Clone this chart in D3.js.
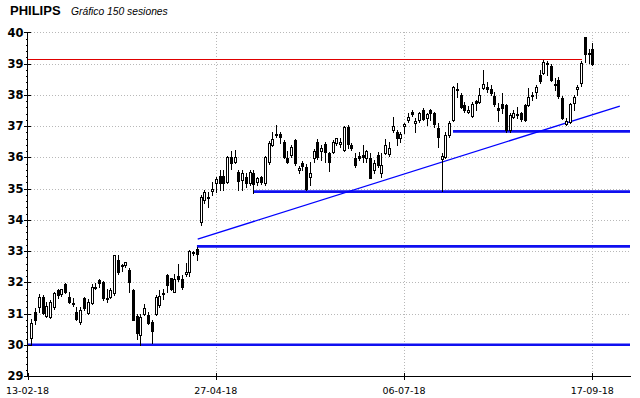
<!DOCTYPE html>
<html>
<head>
<meta charset="utf-8">
<script src="https://cdn.jsdelivr.net/npm/d3@7"></script>
<style>
body { margin: 0; background: #fff; }
</style>
</head>
<body>
<script>
// dimensions
var width = 640;
var height = 398;

var title = "PHILIPS";
var subtitle = "Gráfico 150 sesiones";

// daily sessions, index 0 .. 149
var opens = [
    30.21,31.06,31.20,31.52,30.92,30.90,31.20,31.75,31.62,31.95,
    31.54,31.35,31.04,30.72,31.49,31.01,31.33,31.83,32.07,32.00,
    31.51,31.54,31.67,32.71,32.56,32.55,32.39,31.75,30.93,30.32,
    31.00,30.95,30.74,30.97,31.27,31.63,32.23,32.13,31.70,32.20,
    32.10,32.28,32.34,32.93,33.05,33.94,34.63,34.72,34.93,35.17,
    35.40,35.40,35.22,36.02,35.86,35.54,35.28,35.38,35.19,35.49,
    35.22,35.36,35.17,35.86,36.40,36.70,36.76,36.50,35.97,36.08,
    36.54,35.60,35.81,35.70,35.38,35.97,36.50,36.20,36.42,36.13,
    36.18,36.45,36.42,36.23,36.98,36.39,35.99,36.05,36.07,35.97,
    35.97,35.59,36.07,35.49,36.13,36.10,36.87,36.82,36.63,37.00,
    37.19,37.44,37.09,37.19,37.51,37.25,37.51,37.41,36.93,35.93,
    36.02,36.71,37.20,38.20,37.99,37.67,37.46,37.32,37.80,37.78,
    38.21,38.24,38.17,37.96,37.57,37.70,37.67,36.87,37.30,37.40,
    37.41,37.67,37.67,37.98,38.10,38.63,38.69,39.00,38.92,38.35,
    38.47,37.89,37.07,37.14,37.75,38.20,38.39,39.86,39.31,39.45
];
var highs = [
    30.82,31.17,31.63,31.60,31.38,31.44,31.68,31.80,31.80,31.97,
    31.70,31.49,31.20,31.20,31.54,31.45,31.94,31.99,32.10,32.04,
    31.77,31.81,32.87,32.87,32.58,32.65,32.45,31.80,31.00,31.00,
    31.30,31.05,30.78,31.60,31.75,31.78,32.26,32.15,32.25,32.60,
    32.22,32.62,33.02,33.01,33.12,34.80,34.96,34.90,35.21,35.38,
    35.60,35.58,36.04,36.20,36.24,35.60,35.60,35.49,35.60,35.60,
    35.38,35.40,36.04,36.53,36.81,37.04,36.80,36.55,36.20,36.39,
    36.60,35.72,35.88,35.80,35.86,36.27,36.60,36.39,36.50,36.18,
    36.55,36.63,36.63,37.00,37.03,36.45,36.13,36.18,36.39,36.23,
    36.13,35.91,36.18,36.13,36.60,36.50,37.30,36.87,36.82,37.09,
    37.41,37.51,37.25,37.46,37.57,37.41,37.54,37.46,37.09,36.13,
    36.81,37.17,38.28,38.38,38.05,37.78,37.64,37.78,37.83,38.21,
    38.80,38.42,38.31,38.10,37.74,38.05,37.72,37.41,37.51,37.62,
    37.45,37.72,38.21,38.10,38.31,38.80,39.11,39.09,38.99,38.53,
    38.58,37.96,37.25,37.75,37.99,38.31,39.09,39.86,39.45,39.65
];
var lows = [
    29.98,30.67,31.06,30.99,30.88,30.85,31.16,31.50,31.55,31.65,
    31.35,31.24,30.78,30.68,31.12,30.98,31.30,31.78,31.86,31.44,
    31.38,31.49,31.60,32.26,32.36,32.50,31.70,30.78,30.20,29.99,
    30.95,30.68,30.07,30.95,31.22,31.47,31.70,31.75,31.68,32.05,
    31.80,32.20,32.20,32.88,32.72,33.84,34.53,34.42,34.79,34.90,
    34.95,34.95,35.17,35.63,35.82,34.95,34.95,35.06,35.12,34.86,
    35.12,35.14,35.12,35.80,36.35,36.65,36.45,35.99,35.82,36.01,
    35.76,35.50,35.60,34.95,35.10,35.86,35.95,35.91,35.86,35.56,
    36.13,36.40,36.34,36.20,36.29,36.23,35.70,35.91,35.86,35.86,
    35.33,35.49,35.70,35.38,36.10,36.05,36.82,36.39,36.50,36.77,
    37.14,37.33,36.80,37.14,37.19,37.03,37.19,36.98,36.34,34.92,
    35.97,36.66,37.17,37.94,37.57,37.46,37.41,37.30,37.51,37.75,
    38.18,38.10,37.99,37.64,37.17,37.41,36.82,36.82,37.25,37.25,
    37.16,37.16,37.64,37.83,37.89,38.37,38.67,38.63,38.45,38.16,
    37.89,37.22,37.04,37.11,37.51,38.00,38.28,39.06,39.03,38.96
];
var closes = [
    30.69,30.80,31.54,31.03,31.24,31.38,31.65,31.60,31.78,31.70,
    31.38,31.32,30.82,31.11,31.17,31.38,31.86,31.85,31.97,31.49,
    31.45,31.75,32.86,32.33,32.53,32.64,32.02,30.80,30.37,30.90,
    31.17,30.70,30.44,31.54,31.57,31.67,31.91,31.78,32.10,32.12,
    31.86,32.33,33.00,32.97,32.92,34.74,34.90,34.70,35.00,35.30,
    35.19,35.19,36.02,35.83,36.02,35.25,35.49,35.17,35.54,35.15,
    35.35,35.20,36.02,36.45,36.60,36.74,36.66,36.02,35.86,36.33,
    35.83,35.67,35.72,35.00,35.49,36.20,36.02,36.29,36.16,35.86,
    36.50,36.61,36.50,36.98,36.42,36.29,35.75,35.97,36.02,36.20,
    35.35,35.81,35.75,35.75,36.39,36.31,37.00,36.61,36.73,37.05,
    37.30,37.38,37.16,37.41,37.23,37.38,37.41,37.06,36.66,36.04,
    36.71,37.11,38.24,38.15,37.60,37.51,37.50,37.71,37.73,38.00,
    38.35,38.18,38.05,37.70,37.51,37.57,36.87,37.35,37.41,37.38,
    37.21,37.20,37.94,37.99,38.24,38.45,39.06,39.02,38.47,38.33,
    37.96,37.25,37.17,37.71,37.94,38.24,39.03,39.31,39.35,38.99
];

// x axis ticks (session index) and their date labels
var tickIndex = [-1, 49, 99, 149];
var tickLabels = ["13-02-18", "27-04-18", "06-07-18", "17-09-18"];

// y axis ticks
var yTicks = [29, 30, 31, 32, 33, 34, 35, 36, 37, 38, 39, 40];

// horizontal supports: level and starting session
var supportLevels = [30.0, 33.15, 34.9, 36.83];
var supportStart = [-1, 44, 59, 112];

// resistance (red) line
var resistanceLevel = 39.14;
var resistanceEnd = 146.2;

// trend line: two points [session, price]
var trendFrom = [44.2, 33.38];
var trendTo = [156.3, 37.64];

var svg = d3.select("body")
    .append("svg")
    .attr("width", width)
    .attr("height", height);

var plot = { left: 27.5, right: 630, top: 32.3, bottom: 376 };

var x = d3.scaleLinear().domain([-1, 159]).range([plot.left, plot.right]);
var y = d3.scaleLinear().domain([29, 40]).range([plot.bottom, plot.top]);

function px(v) { return Math.round(v) + 0.5; }

// title
svg.append("text")
    .attr("x", 10)
    .attr("y", 15)
    .style("font-family", "'Liberation Sans', Arial, sans-serif")
    .style("font-weight", "bold")
    .style("font-size", "13px")
    .text(title);
svg.append("text")
    .attr("x", 71)
    .attr("y", 15)
    .style("font-family", "'Liberation Sans', Arial, sans-serif")
    .style("font-style", "italic")
    .style("font-size", "10.3px")
    .text(subtitle);

// grid
var grid = svg.append("g").attr("shape-rendering", "crispEdges");
grid.selectAll(".hgrid")
    .data(yTicks.filter(function(d) { return d > 29; }))
    .enter().append("line")
    .attr("x1", plot.left)
    .attr("x2", plot.right)
    .attr("y1", function(d) { return px(y(d)); })
    .attr("y2", function(d) { return px(y(d)); })
    .attr("stroke", "#b8b8b8")
    .attr("stroke-dasharray", "1,2");
grid.selectAll(".vgrid")
    .data(tickIndex.slice(1))
    .enter().append("line")
    .attr("x1", function(d) { return px(x(d)); })
    .attr("x2", function(d) { return px(x(d)); })
    .attr("y1", plot.top)
    .attr("y2", plot.bottom)
    .attr("stroke", "#b8b8b8")
    .attr("stroke-dasharray", "1,2");

// support lines
svg.selectAll(".support")
    .data(supportLevels)
    .enter().append("line")
    .attr("x1", function(d, i) { return x(supportStart[i]); })
    .attr("x2", plot.right)
    .attr("y1", function(d) { return y(d); })
    .attr("y2", function(d) { return y(d); })
    .attr("stroke", "#1010f0")
    .attr("stroke-width", 2.6);

// resistance
svg.append("line")
    .attr("x1", plot.left)
    .attr("x2", x(resistanceEnd))
    .attr("y1", px(y(resistanceLevel)))
    .attr("y2", px(y(resistanceLevel)))
    .attr("stroke", "#e00000")
    .attr("shape-rendering", "crispEdges");

// trend line
svg.append("line")
    .attr("x1", x(trendFrom[0]))
    .attr("y1", y(trendFrom[1]))
    .attr("x2", x(trendTo[0]))
    .attr("y2", y(trendTo[1]))
    .attr("stroke", "#0000ff")
    .attr("stroke-width", 1.3);

// candles
var candles = svg.append("g").attr("shape-rendering", "crispEdges");
var sessions = d3.range(opens.length);

candles.selectAll(".wick")
    .data(sessions)
    .enter().append("line")
    .attr("x1", function(i) { return px(x(i)); })
    .attr("x2", function(i) { return px(x(i)); })
    .attr("y1", function(i) { return Math.round(y(highs[i])); })
    .attr("y2", function(i) { return Math.round(y(lows[i])) + 1; })
    .attr("stroke", "#000");

candles.selectAll(".body")
    .data(sessions)
    .enter().append("rect")
    .attr("x", function(i) { return Math.round(x(i)) - 0.5; })
    .attr("width", 2)
    .attr("y", function(i) { return px(y(Math.max(opens[i], closes[i]))); })
    .attr("height", function(i) {
        var h = Math.round(y(Math.min(opens[i], closes[i]))) - Math.round(y(Math.max(opens[i], closes[i])));
        return Math.max(h, 1);
    })
    .attr("fill", function(i) { return closes[i] >= opens[i] ? "#fff" : "#000"; })
    .attr("stroke", "#000");

// y axis
var yAxis = svg.append("g").attr("shape-rendering", "crispEdges");
yAxis.append("line")
    .attr("x1", px(plot.left - 0.5))
    .attr("x2", px(plot.left - 0.5))
    .attr("y1", plot.top)
    .attr("y2", plot.bottom + 1)
    .attr("stroke", "#000");
var minor = d3.range(29, 40.001, 0.2);
yAxis.selectAll(".minor")
    .data(minor)
    .enter().append("line")
    .attr("x1", 25.5)
    .attr("x2", 28)
    .attr("y1", function(d) { return px(y(d)); })
    .attr("y2", function(d) { return px(y(d)); })
    .attr("stroke", "#000");
yAxis.selectAll(".major")
    .data(yTicks)
    .enter().append("line")
    .attr("x1", 24)
    .attr("x2", 31)
    .attr("y1", function(d) { return px(y(d)); })
    .attr("y2", function(d) { return px(y(d)); })
    .attr("stroke", "#000");
svg.selectAll(".ylabel")
    .data(yTicks)
    .enter().append("text")
    .attr("x", 23.5)
    .attr("y", function(d) { return y(d) + 4.2; })
    .attr("text-anchor", "end")
    .style("font-family", "'DejaVu Sans', Verdana, sans-serif")
    .style("font-weight", "bold")
    .style("font-size", "11.5px")
    .style("fill", "#000")
    .text(function(d) { return d; });

// x axis
var xAxis = svg.append("g").attr("shape-rendering", "crispEdges");
xAxis.append("line")
    .attr("x1", plot.left)
    .attr("x2", plot.right + 1)
    .attr("y1", px(plot.bottom))
    .attr("y2", px(plot.bottom))
    .attr("stroke", "#000");
xAxis.selectAll(".xtick")
    .data(tickIndex)
    .enter().append("line")
    .attr("x1", function(d) { return px(x(d)); })
    .attr("x2", function(d) { return px(x(d)); })
    .attr("y1", plot.bottom - 3)
    .attr("y2", plot.bottom + 4)
    .attr("stroke", "#000");
svg.selectAll(".xlabel")
    .data(tickIndex)
    .enter().append("text")
    .attr("x", function(d) { return x(d); })
    .attr("y", 394)
    .attr("text-anchor", "middle")
    .style("font-family", "'DejaVu Sans', Verdana, sans-serif")
    .style("font-size", "9.5px")
    .style("fill", "#000")
    .text(function(d, i) { return tickLabels[i]; });
</script>
</body>
</html>
